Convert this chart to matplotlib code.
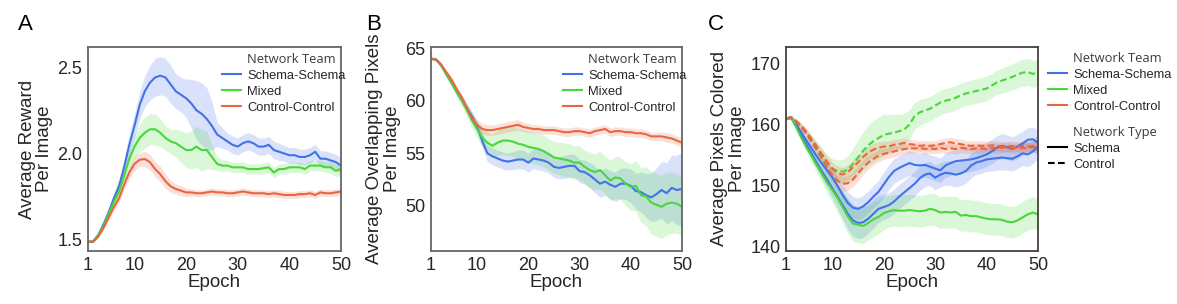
import numpy as np
import matplotlib
matplotlib.use("Agg")
import matplotlib.pyplot as plt
from matplotlib.lines import Line2D

plt.rcParams['font.family'] = ['Liberation Sans', 'DejaVu Sans']

epochs = list(range(1, 51))
team_labels = ["Schema-Schema", "Mixed", "Control-Control"]
type_labels = ["Schema", "Control"]
xticks = [1, 10, 20, 30, 40, 50]

# ---------------- Panel A: Average reward per image ----------------
a_schema = [1.49, 1.49, 1.53, 1.59, 1.66, 1.74, 1.81, 1.92, 2.05, 2.16,
            2.28, 2.36, 2.41, 2.44, 2.45, 2.44, 2.40, 2.36, 2.34, 2.32,
            2.29, 2.25, 2.23, 2.20, 2.16, 2.11, 2.09, 2.07, 2.05, 2.04,
            2.06, 2.07, 2.06, 2.04, 2.04, 2.05, 2.02, 2.01, 2.00, 1.99,
            1.99, 1.98, 1.98, 1.99, 2.01, 1.97, 1.97, 1.96, 1.95, 1.93]
a_schema_err = [0.005, 0.005, 0.01, 0.015, 0.02, 0.03, 0.04, 0.05, 0.06, 0.07,
                0.08, 0.09, 0.10, 0.11, 0.11, 0.11, 0.11, 0.10, 0.10, 0.11,
                0.14, 0.17, 0.18, 0.18, 0.14, 0.07, 0.06, 0.05, 0.05, 0.05,
                0.05, 0.05, 0.05, 0.05, 0.05, 0.05, 0.05, 0.05, 0.045, 0.045,
                0.045, 0.045, 0.045, 0.045, 0.045, 0.045, 0.045, 0.045, 0.045, 0.045]
a_mixed = [1.49, 1.49, 1.53, 1.58, 1.65, 1.72, 1.78, 1.87, 1.97, 2.04,
           2.09, 2.12, 2.14, 2.14, 2.12, 2.09, 2.07, 2.06, 2.04, 2.02,
           2.02, 2.04, 2.02, 2.02, 1.98, 1.94, 1.93, 1.93, 1.92, 1.92,
           1.92, 1.91, 1.91, 1.91, 1.915, 1.92, 1.89, 1.91, 1.91, 1.92,
           1.92, 1.92, 1.91, 1.93, 1.93, 1.93, 1.92, 1.92, 1.90, 1.91]
a_mixed_err = [0.005, 0.005, 0.01, 0.015, 0.02, 0.03, 0.04, 0.05, 0.06, 0.07,
               0.08, 0.09, 0.09, 0.09, 0.08, 0.07, 0.07, 0.08, 0.09, 0.10,
               0.11, 0.12, 0.12, 0.11, 0.07, 0.04, 0.035, 0.03, 0.03, 0.03,
               0.03, 0.03, 0.03, 0.03, 0.03, 0.03, 0.03, 0.03, 0.03, 0.03,
               0.03, 0.03, 0.03, 0.03, 0.03, 0.03, 0.03, 0.035, 0.035, 0.035]
a_control = [1.49, 1.49, 1.52, 1.57, 1.63, 1.69, 1.74, 1.82, 1.89, 1.94,
             1.964, 1.968, 1.95, 1.91, 1.88, 1.84, 1.81, 1.795, 1.785, 1.775,
             1.775, 1.77, 1.77, 1.775, 1.78, 1.775, 1.775, 1.77, 1.77, 1.775,
             1.78, 1.775, 1.77, 1.77, 1.77, 1.765, 1.77, 1.765, 1.76, 1.76,
             1.76, 1.765, 1.765, 1.77, 1.76, 1.775, 1.77, 1.77, 1.775, 1.78]
a_control_err = [0.005, 0.005, 0.01, 0.01, 0.015, 0.02, 0.025, 0.03, 0.035, 0.04,
                 0.04, 0.045, 0.045, 0.045, 0.045, 0.04, 0.035, 0.03, 0.03, 0.025,
                 0.02, 0.02, 0.02, 0.02, 0.02, 0.02, 0.02, 0.02, 0.02, 0.02,
                 0.02, 0.02, 0.02, 0.02, 0.02, 0.02, 0.02, 0.02, 0.02, 0.02,
                 0.02, 0.02, 0.02, 0.02, 0.02, 0.02, 0.02, 0.02, 0.02, 0.02]

# ---------------- Panel B: Average overlapping pixels ----------------
b_schema = [64.0, 63.9, 63.4, 62.5, 61.7, 60.9, 60.1, 59.3, 58.5, 57.5,
            56.2, 55.0, 54.7, 54.5, 54.3, 54.2, 54.3, 54.4, 54.4, 54.1,
            54.5, 54.4, 54.3, 54.1, 53.7, 53.6, 53.7, 53.8, 53.8, 53.3,
            53.2, 52.9, 52.5, 52.1, 52.3, 52.0, 51.8, 52.1, 52.1, 51.9,
            51.4, 51.3, 51.0, 50.8, 51.1, 51.5, 51.2, 51.7, 51.5, 51.6]
b_schema_err = [0.1, 0.15, 0.2, 0.25, 0.3, 0.35, 0.4, 0.45, 0.5, 0.6,
                0.7, 0.8, 0.8, 0.8, 0.8, 0.8, 0.85, 0.9, 0.9, 0.9,
                0.95, 1.0, 1.0, 1.0, 1.0, 1.05, 1.1, 1.1, 1.1, 1.1,
                1.15, 1.2, 1.25, 1.3, 1.3, 1.35, 1.4, 1.45, 1.5, 1.6,
                1.7, 1.9, 2.1, 2.3, 2.5, 2.7, 2.9, 3.1, 3.3, 3.5]
b_mixed = [64.0, 63.9, 63.3, 62.5, 61.7, 60.8, 60.0, 59.1, 58.1, 57.3,
           56.5, 56.0, 55.7, 56.0, 56.2, 56.2, 56.1, 55.9, 55.8, 55.6,
           55.5, 55.4, 55.2, 54.9, 54.6, 54.5, 54.4, 54.3, 54.1, 54.1,
           53.7, 53.4, 53.2, 53.4, 52.9, 52.4, 52.7, 52.6, 52.1, 51.8,
           51.9, 51.0, 50.9, 50.3, 50.1, 49.9, 50.2, 50.3, 50.2, 49.9]
b_mixed_err = [0.1, 0.15, 0.2, 0.25, 0.3, 0.4, 0.5, 0.6, 0.7, 0.8,
               0.9, 1.0, 1.1, 1.2, 1.3, 1.4, 1.4, 1.5, 1.5, 1.5,
               1.5, 1.5, 1.5, 1.5, 1.5, 1.55, 1.6, 1.6, 1.6, 1.6,
               1.6, 1.7, 1.7, 1.8, 1.8, 1.9, 2.0, 2.0, 2.1, 2.2,
               2.4, 2.6, 2.8, 3.0, 3.0, 3.0, 3.0, 2.9, 2.8, 2.8]
b_control = [64.0, 63.9, 63.4, 62.7, 62.0, 61.1, 60.3, 59.3, 58.3, 57.7,
             57.3, 57.2, 57.2, 57.3, 57.4, 57.5, 57.6, 57.7, 57.5, 57.4,
             57.3, 57.3, 57.2, 57.2, 57.2, 57.1, 57.0, 57.0, 57.1, 57.1,
             57.0, 56.9, 57.1, 57.2, 57.3, 57.0, 57.1, 57.1, 57.0, 57.0,
             56.9, 56.9, 56.8, 56.6, 56.6, 56.6, 56.5, 56.4, 56.2, 56.0]
b_control_err = [0.1, 0.1, 0.15, 0.2, 0.25, 0.3, 0.3, 0.35, 0.4, 0.45,
                 0.5, 0.5, 0.5, 0.5, 0.5, 0.5, 0.5, 0.5, 0.45, 0.45,
                 0.4, 0.4, 0.4, 0.4, 0.4, 0.4, 0.4, 0.4, 0.4, 0.4,
                 0.4, 0.4, 0.4, 0.4, 0.4, 0.4, 0.4, 0.4, 0.4, 0.4,
                 0.4, 0.4, 0.4, 0.4, 0.4, 0.4, 0.45, 0.45, 0.45, 0.45]

# ---------------- Panel C: Average pixels colored ----------------
# Schema-Schema team: two schema networks (solid)
c_ss_1 = [161.0, 161.2, 160.0, 158.7, 157.4, 156.1, 154.8, 153.6, 152.5, 151.4,
          150.0, 148.5, 147.2, 146.4, 146.2, 146.6, 147.3, 148.2, 149.0, 150.2,
          151.4, 152.4, 152.9, 153.3, 153.7, 153.4, 153.3, 153.4, 153.1, 152.8,
          152.5, 153.3, 153.7, 154.0, 154.1, 154.2, 154.3, 154.5, 154.8, 155.1,
          155.6, 156.2, 156.5, 156.3, 156.0, 156.4, 156.9, 157.5, 157.6, 157.0]
c_ss_1_err = [0.2, 0.3, 0.4, 0.5, 0.6, 0.7, 0.8, 0.9, 1.0, 1.2,
              1.4, 1.6, 1.8, 1.8, 1.8, 1.8, 1.8, 1.8, 1.9, 2.0,
              2.0, 2.0, 2.0, 2.0, 2.0, 2.0, 2.0, 2.0, 2.0, 2.0,
              2.0, 2.0, 2.0, 2.0, 2.0, 2.0, 2.0, 2.0, 2.0, 2.0,
              2.0, 2.0, 2.0, 2.0, 2.0, 2.0, 2.0, 2.0, 2.0, 2.0]
c_ss_2 = [161.0, 161.1, 159.7, 158.2, 156.7, 155.2, 153.7, 152.3, 151.0, 149.6,
          148.2, 146.8, 145.4, 144.3, 143.9, 144.0, 144.6, 145.4, 146.2, 146.5,
          146.8, 147.4, 148.2, 148.9, 149.6, 150.3, 151.2, 151.8, 152.0, 151.3,
          151.8, 152.1, 152.0, 151.8, 152.0, 152.4, 153.3, 153.8, 154.0, 154.3,
          154.4, 154.5, 154.6, 154.5, 154.4, 154.8, 155.3, 155.1, 155.6, 156.4]
c_ss_2_err = [0.2, 0.3, 0.4, 0.5, 0.6, 0.8, 1.0, 1.2, 1.4, 1.6,
              1.9, 2.2, 2.5, 2.6, 2.6, 2.5, 2.4, 2.3, 2.2, 2.1,
              2.0, 2.0, 2.0, 2.0, 2.0, 2.0, 2.0, 2.0, 2.0, 2.0,
              2.0, 2.0, 2.0, 2.0, 2.0, 2.0, 2.0, 2.0, 2.0, 2.0,
              2.0, 2.0, 2.0, 2.0, 2.0, 2.0, 2.0, 2.0, 2.0, 2.0]
# Mixed team: one schema (solid) and one control (dashed) network
c_mixed_schema = [161.0, 161.2, 159.5, 157.8, 156.2, 154.8, 153.3, 151.9, 150.5, 149.3,
                  148.0, 146.5, 145.0, 143.8, 143.6, 143.4, 143.9, 144.5, 144.9, 145.5,
                  145.8, 146.0, 145.9, 145.9, 146.0, 145.9, 145.8, 145.9, 146.2, 146.0,
                  145.6, 145.7, 145.6, 145.7, 145.1, 145.2, 145.0, 145.0, 144.8, 144.6,
                  144.5, 144.5, 144.4, 144.1, 144.0, 144.3, 144.8, 145.3, 145.6, 145.3]
c_mixed_schema_err = [0.2, 0.3, 0.4, 0.6, 0.8, 1.0, 1.2, 1.4, 1.7, 2.0,
                      2.3, 2.6, 2.8, 2.9, 2.9, 2.9, 2.8, 2.8, 2.8, 2.7,
                      2.6, 2.6, 2.6, 2.6, 2.6, 2.6, 2.6, 2.6, 2.6, 2.6,
                      2.6, 2.6, 2.6, 2.6, 2.6, 2.6, 2.6, 2.6, 2.6, 2.6,
                      2.6, 2.6, 2.6, 2.6, 2.6, 2.6, 2.6, 2.6, 2.6, 2.6]
c_mixed_control = [161.0, 161.2, 160.4, 159.6, 158.6, 157.4, 156.2, 155.0, 153.7, 152.8,
                   152.4, 152.3, 152.6, 153.5, 154.6, 155.7, 156.6, 157.3, 157.8, 158.3,
                   158.5, 158.7, 158.9, 159.2, 160.0, 161.4, 162.0, 162.3, 162.6, 163.1,
                   163.6, 163.9, 164.1, 164.4, 164.8, 165.1, 165.3, 165.5, 165.7, 165.9,
                   166.4, 166.9, 167.2, 167.5, 167.8, 168.2, 168.5, 168.6, 168.3, 168.5]
c_mixed_control_err = [0.2, 0.3, 0.4, 0.5, 0.6, 0.8, 1.0, 1.2, 1.4, 1.6,
                       1.8, 2.0, 2.3, 2.6, 2.9, 3.1, 3.3, 3.4, 3.4, 3.4,
                       3.2, 3.0, 2.8, 2.6, 2.4, 2.2, 2.1, 2.0, 2.0, 2.0,
                       2.0, 2.0, 2.0, 2.0, 2.0, 2.0, 2.0, 2.0, 2.0, 2.0,
                       2.0, 2.0, 2.0, 2.1, 2.1, 2.2, 2.2, 2.2, 2.2, 2.2]
# Control-Control team: two control networks (dashed)
c_cc_1 = [161.0, 161.2, 160.6, 159.8, 158.8, 157.6, 156.4, 155.1, 153.9, 152.8,
          152.1, 151.8, 152.2, 153.0, 153.8, 154.7, 155.4, 155.9, 156.2, 156.4,
          156.4, 156.7, 156.8, 157.0, 156.8, 156.7, 156.5, 156.6, 156.5, 156.6,
          156.8, 157.0, 157.1, 156.9, 156.8, 156.6, 156.5, 156.6, 156.5, 156.5,
          156.6, 156.5, 156.4, 156.4, 156.5, 156.4, 156.5, 156.4, 156.5, 156.6]
c_cc_2 = [161.0, 161.1, 160.4, 159.5, 158.4, 157.1, 155.8, 154.4, 153.0, 151.7,
          150.8, 150.3, 150.4, 151.0, 152.0, 153.0, 153.8, 154.4, 154.9, 155.2,
          155.4, 155.6, 155.8, 156.0, 156.1, 156.1, 156.2, 156.0, 156.1, 156.0,
          156.2, 156.0, 156.1, 156.0, 156.2, 156.1, 156.0, 156.1, 156.1, 156.0,
          156.2, 156.1, 156.2, 156.3, 156.1, 156.2, 156.1, 156.2, 156.3, 156.3]
c_cc_err = [0.2, 0.2, 0.3, 0.4, 0.5, 0.6, 0.7, 0.8, 0.9, 1.0,
            1.1, 1.2, 1.2, 1.2, 1.2, 1.2, 1.1, 1.0, 1.0, 0.9,
            0.9, 0.9, 0.8, 0.8, 0.8, 0.8, 0.8, 0.8, 0.8, 0.8,
            0.8, 0.8, 0.8, 0.8, 0.8, 0.8, 0.8, 0.8, 0.8, 0.8,
            0.8, 0.8, 0.8, 0.8, 0.8, 0.8, 0.8, 0.8, 0.8, 0.8]

BLUE = "#4272e8"
GREEN = "#47d73a"
RED = "#ea6640"
TEXT = "#262626"
DASH = (0, (3.2, 1.6))

W, H = 1177, 304
fig = plt.figure(figsize=(W / 100, H / 100), dpi=100)

def axes_px(x0, x1, y0, y1):
    return fig.add_axes([x0 / W, 1 - y1 / H, (x1 - x0) / W, (y1 - y0) / H])

axA = axes_px(88, 341, 47, 251)
axB = axes_px(431, 682, 47, 251)
axC = axes_px(786, 1038, 47, 251)

def band(ax, y, err, color, ls="-", alpha=0.2):
    y = np.asarray(y)
    e = np.asarray(err)
    ax.fill_between(epochs, y - e, y + e, color=color, alpha=alpha, lw=0)
    ax.plot(epochs, y, color=color, lw=1.5, ls=ls)

band(axA, a_schema, a_schema_err, BLUE)
band(axA, a_mixed, a_mixed_err, GREEN)
band(axA, a_control, a_control_err, RED)

band(axB, b_schema, b_schema_err, BLUE)
band(axB, b_mixed, b_mixed_err, GREEN)
band(axB, b_control, b_control_err, RED)

band(axC, c_ss_1, c_ss_1_err, BLUE)
band(axC, c_ss_2, c_ss_2_err, BLUE)
band(axC, c_mixed_schema, c_mixed_schema_err, GREEN)
band(axC, c_mixed_control, c_mixed_control_err, GREEN, ls=DASH)
band(axC, c_cc_1, c_cc_err, RED, ls=DASH)
band(axC, c_cc_2, c_cc_err, RED, ls=DASH)

setup = [
    (axA, (1.436, 2.616), [1.5, 2.0, 2.5], ["1.5", "2.0", "2.5"],
     "Average Reward\nPer Image", "#666666"),
    (axB, (45.7, 65.1), [50, 55, 60, 65], ["50", "55", "60", "65"],
     "Average Overlapping Pixels\nPer Image", "#666666"),
    (axC, (139.3, 172.7), [140, 150, 160, 170], ["140", "150", "160", "170"],
     "Average Pixels Colored\nPer Image", "#4a403d"),
]
for ax, ylim, yt, ytl, ylab, sc in setup:
    ax.set_xlim(1, 50)
    ax.set_ylim(*ylim)
    ax.set_xticks(xticks)
    ax.set_xticklabels([str(t) for t in xticks])
    ax.set_yticks(yt)
    ax.set_yticklabels(ytl)
    ax.tick_params(length=0, labelsize=13, labelcolor=TEXT, pad=4)
    for s in ax.spines.values():
        s.set_color(sc)
        s.set_linewidth(1.3)
    ax.set_xlabel("Epoch", fontsize=13.5, color=TEXT, labelpad=0)
    ax.set_ylabel(ylab, fontsize=13.5, color=TEXT, labelpad=3, linespacing=1.05)

# panel letters
for letter, x in [("A", 18), ("B", 366), ("C", 708)]:
    fig.text(x / W, 1 - 30 / H, letter, fontsize=16, color="black",
             ha="left", va="baseline")

blank = Line2D([], [], linestyle="none")
team_handles = [Line2D([], [], color=c, lw=1.5) for c in (BLUE, GREEN, RED)]

def make_legend(handles, labels, x, y, subtitle_idx):
    leg = fig.legend(handles, labels, loc="upper left",
                     bbox_to_anchor=(x / W, 1 - y / H),
                     bbox_transform=fig.transFigure,
                     frameon=False, fontsize=9.3, handlelength=1.5,
                     handletextpad=0.45, labelspacing=0.3, borderpad=0,
                     borderaxespad=0)
    for i, t in enumerate(leg.get_texts()):
        t.set_color(TEXT)
        if i in subtitle_idx:
            t.set_fontfamily("Open Sans")
            t.set_fontweight("normal")
            t.set_fontsize(9.3)
            t.set_color("#3a3a3a")
    return leg

make_legend([blank] + team_handles, ["Network Team"] + team_labels, 222, 53, [0])
make_legend([blank] + team_handles, ["Network Team"] + team_labels, 563, 53, [0])

type_handles = [Line2D([], [], color="black", lw=1.5),
                Line2D([], [], color="black", lw=1.5, ls=DASH)]
make_legend([blank] + team_handles, ["Network Team"] + team_labels, 1048, 52, [0])
make_legend([blank] + type_handles, ["Network Type"] + type_labels, 1048, 126, [0])

fig.savefig("out.png", dpi=100)
